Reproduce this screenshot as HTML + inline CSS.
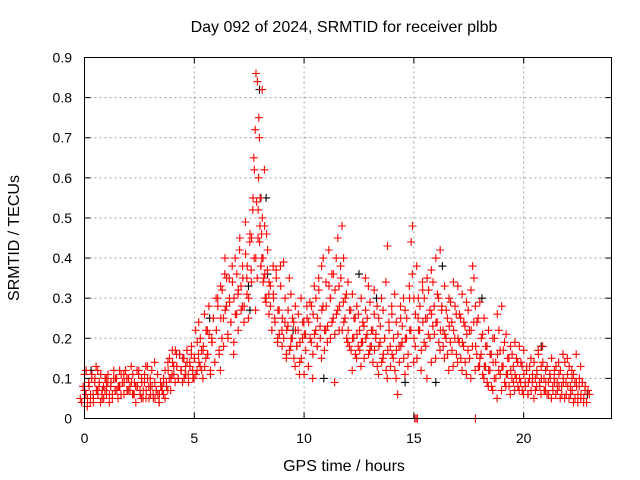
<!DOCTYPE html>
<html><head><meta charset="utf-8"><style>
html,body{margin:0;padding:0;background:#fff;}
svg{display:block;font-family:"Liberation Sans",sans-serif;}
</style></head><body>
<svg id="chart" width="640" height="480" viewBox="0 0 640 480" xmlns="http://www.w3.org/2000/svg">
<rect x="0" y="0" width="640" height="480" fill="#fff"/>
<g id="grid"></g>
<g id="marks"></g>
<rect x="84.5" y="57.5" width="527" height="361" fill="none" stroke="#000" stroke-width="1"/>
<g id="ticks"></g>
<text x="344" y="32" font-size="16" text-anchor="middle" fill="#000">Day 092 of 2024, SRMTID for receiver plbb</text>
<text x="344" y="471" font-size="16" text-anchor="middle" fill="#000">GPS time / hours</text>
<text x="19" y="238" font-size="16" text-anchor="middle" fill="#000" transform="rotate(-90 19 238)">SRMTID / TECUs</text>
</svg>
<script>
const xTicks = [0, 5, 10, 15, 20];
const yTicks = [0, 0.1, 0.2, 0.3, 0.4, 0.5, 0.6, 0.7, 0.8, 0.9];
const yTickLabels = ["0","0.1","0.2","0.3","0.4","0.5","0.6","0.7","0.8","0.9"];
const redRows = [
[0.0,.05,.04,.08,.11,.06,.03,.09],[0.2,.07,.12,.05,.09,.04,.10,.06],[0.4,.08,.06,.11,.04,.09,.13,.07],
[0.6,.05,.10,.07,.12,.08,.04,.06],[0.8,.06,.09,.11,.05,.08,.07,.10],[1.0,.07,.05,.10,.06,.09,.04,.08],
[1.2,.08,.11,.06,.09,.05,.10,.07],[1.4,.09,.06,.12,.07,.10,.05,.08],[1.6,.10,.07,.08,.12,.06,.09,.11],
[1.8,.08,.11,.09,.06,.12,.10,.07],[2.0,.09,.12,.07,.10,.08,.13,.06],[2.2,.10,.07,.09,.11,.06,.08,.12],
[2.4,.06,.09,.04,.08,.11,.07,.05],[2.6,.08,.12,.06,.10,.05,.09,.13],[2.8,.09,.07,.11,.05,.13,.08,.10],
[3.0,.07,.10,.05,.08,.12,.06,.14],[3.2,.06,.08,.05,.09,.07,.11,.04],[3.4,.05,.07,.06,.04,.09,.08,.06],
[3.6,.06,.08,.07,.10,.05,.09,.07],[3.8,.09,.12,.08,.14,.10,.07,.11],[4.0,.12,.15,.10,.17,.13,.09,.16],
[4.2,.14,.11,.17,.13,.10,.16,.12],[4.4,.13,.10,.16,.12,.09,.15,.11],[4.6,.12,.15,.10,.13,.17,.11,.14],
[4.8,.11,.14,.09,.13,.16,.12,.10],[5.0,.13,.18,.10,.15,.22,.12,.16],[5.2,.15,.11,.19,.24,.13,.17,.10],
[5.4,.14,.20,.12,.17,.26,.15,.22],[5.6,.18,.13,.22,.16,.28,.12,.20],[5.8,.16,.21,.11,.19,.25,.14,.30],
[6.0,.19,.25,.14,.22,.30,.17,.12],[6.2,.22,.28,.16,.33,.20,.25,.36],[6.4,.25,.32,.18,.40,.28,.21,.35],
[6.6,.27,.35,.20,.30,.24,.38,.16],[6.8,.29,.24,.34,.19,.40,.26,.31],[7.0,.30,.26,.36,.22,.42,.33,.28],
[7.2,.32,.45,.27,.38,.24,.49,.35],[7.4,.35,.28,.41,.31,.25,.44,.37],[7.6,.38,.30,.46,.34,.52,.40,.27],
[7.8,.45,.55,.62,.40,.35,.60,.48],[7.9,.65,.72,.54,.45,.70,.38,.82],[8.0,.86,.84,.75,.55,.46,.40,.62],
[8.1,.52,.44,.38,.50,.35,.30,.46],[8.2,.55,.40,.34,.48,.29,.37,.31],[8.4,.36,.30,.42,.26,.33,.22,.38],
[8.6,.34,.28,.22,.31,.25,.37,.19],[8.8,.30,.24,.35,.20,.27,.38,.22],[9.0,.27,.21,.33,.18,.39,.24,.15],
[9.2,.25,.20,.30,.16,.23,.35,.18],[9.4,.22,.27,.17,.31,.20,.24,.13],[9.6,.20,.25,.15,.28,.18,.22,.11],
[9.8,.22,.18,.26,.14,.30,.20,.24],[10.0,.19,.15,.24,.11,.21,.28,.13],[10.2,.21,.17,.25,.13,.29,.19,.10],
[10.4,.24,.20,.28,.16,.33,.22,.18],[10.6,.26,.21,.30,.18,.35,.23,.15],[10.8,.25,.32,.20,.38,.28,.17,.22],
[11.0,.27,.40,.22,.34,.19,.42,.30],[11.2,.28,.23,.33,.20,.36,.25,.09],[11.4,.30,.24,.36,.21,.40,.27,.33],
[11.6,.32,.26,.45,.22,.38,.48,.29],[11.8,.28,.35,.22,.40,.25,.31,.19],[12.0,.24,.30,.20,.34,.18,.27,.12],
[12.2,.22,.27,.17,.31,.20,.25,.15],[12.4,.20,.25,.16,.28,.18,.22,.13],[12.6,.21,.26,.17,.30,.19,.23,.35],
[12.8,.19,.24,.15,.27,.21,.33,.17],[13.0,.20,.25,.16,.29,.18,.22,.32],[13.2,.18,.22,.14,.26,.20,.28,.11],
[13.4,.17,.21,.13,.25,.19,.30,.15],[13.6,.18,.23,.14,.27,.20,.34,.10],[13.8,.16,.20,.12,.43,.24,.18,.28],
[14.0,.17,.22,.13,.26,.15,.31,.10],[14.2,.16,.20,.12,.24,.06,.18,.28],[14.4,.17,.21,.14,.25,.19,.30,.11],
[14.6,.18,.23,.15,.27,.20,.13,.33],[14.8,.20,.25,.16,.30,.22,.36,.14],[15.0,.22,.44,.48,.30,.18,.38,.25],
[15.2,.20,.26,.15,.30,.22,.12,.34],[15.4,.22,.28,.17,.32,.19,.25,.10],[15.6,.24,.30,.18,.35,.21,.27,.14],
[15.8,.25,.32,.20,.37,.23,.28,.15],[16.0,.26,.34,.21,.40,.24,.30,.17],[16.2,.24,.31,.19,.42,.27,.22,.15],
[16.4,.22,.28,.18,.33,.20,.25,.12],[16.6,.21,.27,.16,.30,.19,.24,.13],[16.8,.23,.29,.17,.34,.20,.26,.14],
[17.0,.22,.28,.16,.33,.19,.25,.12],[17.2,.20,.26,.15,.31,.18,.23,.11],[17.4,.19,.24,.14,.29,.17,.22,.10],
[17.6,.21,.27,.15,.32,.18,.24,.12],[17.8,.22,.38,.35,.28,.16,.25,.13],[18.0,.18,.24,.13,.29,.16,.21,.10],
[18.2,.15,.20,.11,.25,.13,.18,.08],[18.4,.13,.18,.09,.22,.12,.16,.07],[18.6,.12,.16,.08,.20,.10,.14,.05],
[18.8,.14,.20,.10,.26,.12,.17,.07],[19.0,.16,.22,.11,.28,.13,.19,.08],[19.2,.13,.17,.09,.21,.11,.15,.06],
[19.4,.11,.15,.08,.18,.10,.13,.07],[19.6,.12,.16,.09,.19,.10,.14,.07],[19.8,.11,.15,.08,.18,.09,.13,.06],
[20.0,.10,.14,.07,.17,.09,.12,.06],[20.2,.11,.08,.13,.06,.10,.15,.09],[20.4,.09,.13,.07,.11,.05,.10,.08],
[20.6,.10,.14,.07,.12,.17,.09,.06],[20.8,.11,.16,.08,.13,.18,.10,.07],[21.0,.10,.14,.07,.12,.06,.09,.11],
[21.2,.09,.13,.06,.11,.05,.08,.10],[21.4,.10,.15,.07,.12,.06,.09,.14],[21.6,.09,.13,.07,.11,.05,.08,.16],
[21.8,.08,.12,.06,.10,.05,.09,.15],[22.0,.09,.14,.06,.11,.05,.08,.12],[22.2,.08,.13,.06,.10,.04,.09,.16],
[22.4,.07,.11,.05,.09,.04,.08,.13],[22.6,.08,.06,.10,.05,.09,.04,.07],[22.8,.06,.09,.05,.08,.04,.07,.06],
[15.1,0,0,0],[17.8,0]
];
const blackRows = [
[7.5,.33,.27],[8.0,.82,.55],[8.3,.55,.36],[9.5,.22],[10.9,.10],[12.5,.36],[13.3,.30],[14.6,.09],
[16.0,.09],[16.3,.38],[18.1,.30],[20.8,.18],[22.9,.06],[0.3,.12],[5.7,.25]
];
const X0=84.5, X1=611.5, XMAX=24, Y0=418.5, Y1=57.5, YMAX=0.9;
function sx(t){return X0+(t/XMAX)*(X1-X0);}
function sy(v){return Y0-(v/YMAX)*(Y0-Y1);}
const NS="http://www.w3.org/2000/svg";
const grid=document.getElementById('grid'), ticks=document.getElementById('ticks'), marks=document.getElementById('marks');
function mk(tag,attrs,parent){const e=document.createElementNS(NS,tag);for(const k in attrs)e.setAttribute(k,attrs[k]);parent.appendChild(e);return e;}
xTicks.forEach(function(t){
  const x=sx(t);
  if(t>0){const g=mk('line',{x1:x,y1:Y0,x2:x,y2:Y1,stroke:'#a0a0a0','stroke-dasharray':'2,3'},grid);
  
  }
  const l1=mk('line',{x1:x,y1:Y0,x2:x,y2:Y0-6,stroke:'#000'},ticks);
  
  
  const l2=mk('line',{x1:x,y1:Y1,x2:x,y2:Y1+6,stroke:'#000'},ticks);
  
  
  const tx=mk('text',{x:x,y:443,'font-size':14,'text-anchor':'middle',fill:'#000'},ticks);
  tx.textContent=String(t);
  
  
});
yTicks.forEach(function(v,i){
  const y=sy(v);
  if(v>0&&v<YMAX){const g=mk('line',{x1:X0,y1:y,x2:X1,y2:y,stroke:'#a0a0a0','stroke-dasharray':'2,3'},grid);
  
  }
  const l1=mk('line',{x1:X0,y1:y,x2:X0+6,y2:y,stroke:'#000'},ticks);
  
  
  const l2=mk('line',{x1:X1,y1:y,x2:X1-6,y2:y,stroke:'#000'},ticks);
  
  
  const tx=mk('text',{x:72,y:y+5,'font-size':14,'text-anchor':'end',fill:'#000'},ticks);
  tx.textContent=yTickLabels[i];
  
  
});
function drawRows(rows,color,name){
  let d='';
  rows.forEach(function(r){
    const n=r.length-1;
    for(let i=1;i<r.length;i++){
      const x=sx(r[0])+(i-1-(n-1)/2)*1.4, y=sy(r[i]);
      d+='M'+(x-4).toFixed(1)+' '+y.toFixed(1)+'h8M'+x.toFixed(1)+' '+(y-4).toFixed(1)+'v8';
    }
  });
  const p=mk('path',{d:d,stroke:color,'stroke-width':1.1,fill:'none'},marks);
  
  
}
drawRows(blackRows,'#000','black-series-points');
drawRows(redRows,'#ff0000','red-series-points');
</script>
</body></html>
